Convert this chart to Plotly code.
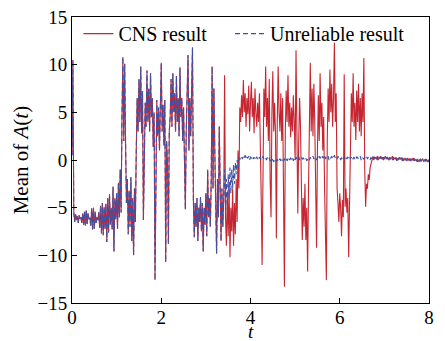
import numpy as np
import plotly.graph_objects as go

# sampling step of both series (time units)
DT = 0.02

# CNS result, t = 0.00 ... 8.00
cns = [
    # 0.00 - 0.98
    0.5, 10.5, -5.4, -6.5, -5.7, -6.3, -5.9, -6.6, -5.8, -6.2,
    -6.0, -6.6, -5.6, -6.8, -5.4, -6.9, -5.3, -6.7, -5.6, -6.2,
    -6.1, -6.9, -5.1, -7.3, -5.0, -7.2, -5.4, -6.6, -6.0, -6.3,
    -5.5, -7.1, -4.8, -7.7, -4.5, -7.9, -4.9, -7.2, -4.6, -8.6,
    -4.0, -7.6, -3.6, -6.8, -5.0, -7.3, -2.8, -9.6, -4.0, -6.2,
    # 1.00 - 1.98
    -3.5, -7.2, -2.4, -6.0, -1.0, -5.5, 4.5, 10.8, 2.0, 10.1,
    2.0, -4.5, -2.0, -7.8, -3.2, -7.0, -1.8, -8.5, -4.0, -10.0,
    -3.0, -6.5, 1.0, 6.5, 3.0, 8.5, 4.0, 9.8, 2.8, 7.2,
    -6.3, 2.0, 6.0, 3.5, 9.4, 4.0, 7.5, 3.0, 9.1, 4.5,
    6.5, 1.4, 5.0, -12.6, 3.0, 6.3, 2.5, 5.5, 1.0, 6.0,
    # 2.00 - 2.98
    10.2, 3.0, 5.8, 1.5, 6.3, -10.7, 2.0, -0.3, -8.8, 3.0,
    4.5, 8.5, 3.5, 9.1, 5.0, 7.0, 3.0, 8.8, 4.0, 6.5,
    2.5, 9.7, 4.5, 6.5, 2.0, 5.5, -1.5, -5.2, 3.0, 7.5,
    11.0, 1.0, 6.5, 2.5, 8.0, 11.8, -4.2, -8.1, -4.5, -7.0,
    -4.0, -8.5, -5.0, -6.5, -3.9, -7.5, -4.5, -9.6, -5.0, -6.8,
    # 3.00 - 3.98
    -3.5, -8.0, -1.0, -6.0, -4.0, -7.0, -2.0, 9.8, -3.0, 7.5,
    1.0, -4.0, -9.8, -2.0, -6.0, 3.5, -5.0, -8.5, -3.0, -7.0,
    -4.0, 8.9, -6.0, -9.0, -3.5, -8.0, -2.4, -10.2, -5.0, -7.5,
    -3.0, -9.0, -4.5, -7.8, -2.0, -6.5, 1.0, -3.0, 5.5, 4.0,
    6.8, 4.5, 8.4, 5.0, 7.0, 3.5, 6.5, 4.8, 7.8, 3.0,
    # 4.00 - 4.98
    6.0, 8.2, 4.5, 6.5, 2.8, 7.5, 5.0, 3.5, 6.0, 4.0,
    7.0, 3.0, -4.0, -11.0, 2.0, 7.5, 4.5, 9.8, 3.5, 6.5,
    2.0, 8.5, -2.0, -6.0, 5.0, 9.3, 3.0, 6.0, 2.8, -8.2,
    4.0, 9.8, 5.0, 3.0, 7.0, 2.0, 6.5, -1.0, -13.3, 3.0,
    7.3, 4.0, 8.9, 3.5, 6.0, 2.4, 5.5, 3.0, 6.8, 4.0,
    # 5.00 - 5.98
    0.0, 11.5, 3.0, -5.6, 2.0, 6.5, 3.5, -2.4, -8.4, -4.0,
    -7.0, -2.5, -8.4, -5.0, -11.7, -3.0, 4.0, 10.2, 3.0, 7.5,
    2.5, 8.0, 4.0, -2.0, -9.2, 1.0, 6.8, 2.0, 9.1, 3.5,
    6.0, 1.0, 4.5, -3.0, -7.0, -12.6, 2.0, 7.5, 4.0, 9.5,
    5.0, 8.0, 3.5, 6.5, 12.3, 4.0, 7.0, -3.0, -4.5, -6.5,
    # 6.00 - 6.78
    -3.5, -5.0, -8.0, -4.2, -6.0, 9.0, -4.9, -3.0, -5.5, -4.0,
    -10.2, -3.0, 2.0, 7.0, 4.0, 9.1, 3.5, 6.0, 2.1, 7.3,
    4.0, 8.0, 3.0, 6.5, 2.5, 7.0, 4.0, 10.7, -1.0, -4.9,
    -2.5, -3.0, -1.5, -2.1, -0.8, -0.3, 0.1, 0.3, 0.0, 0.2,
    # 6.80 - 8.00
    0.3, 0.1, 0.4, 0.0, 0.3, 0.2, 0.4, 0.1, 0.3, 0.0,
    0.2, 0.4, 0.1, 0.3, 0.2, 0.0, 0.3, 0.1, 0.2, 0.4,
    0.0, 0.2, 0.1, 0.3, -0.1, 0.2, 0.0, 0.3, 0.1, 0.2,
    -0.1, 0.1, 0.2, 0.0, 0.1, -0.1, 0.2, 0.0, 0.1, -0.1,
    0.1, 0.0, 0.2, -0.1, 0.1, 0.0, -0.1, 0.1, 0.0, -0.2,
    0.1, -0.1, 0.0, 0.1, -0.1, 0.0, -0.1, 0.1, -0.2, 0.0,
    -0.1,
]

# index of the last sample (t = 3.40) shared by both runs
SPLIT = 170

# unreliable run after it departs from the CNS run, t = 3.42 ... 8.00
unreliable_tail = [
    -1.0, -4.5, -2.0, -5.2, -1.5, -4.0, -0.8, -3.5, -1.0,
    -3.0, -0.5, -2.5, -0.3, -1.5, 0.0, -0.8, 0.1, 0.2, 0.0,
    # 3.80 - 8.00
    0.3, 0.1, 0.4, 0.2, 0.5, 0.1, 0.3, 0.2, 0.4, 0.0,
    0.3, 0.2, 0.4, 0.1, 0.3, 0.0, 0.2, 0.3, 0.1, 0.4,
    0.2, 0.3, 0.0, 0.2, 0.4, 0.1, 0.3, 0.2, 0.0, 0.3,
    0.1, 0.2, -0.1, 0.1, 0.2, 0.0, -0.2, 0.1, 0.0, -0.1,
    0.1, -0.2, 0.0, 0.1, -0.1, 0.2, 0.0, -0.1, 0.1, 0.0,
    0.2, -0.1, 0.1, 0.3, 0.0, 0.2, 0.1, 0.3, -0.1, 0.2,
    0.0, 0.3, 0.1, 0.2, 0.4, 0.0, 0.2, 0.3, 0.1, 0.2,
    0.1, 0.0, 0.2, -0.1, 0.1, 0.2, 0.0, 0.3, 0.1, 0.2,
    0.4, 0.1, 0.3, 0.2, 0.0, 0.3, 0.1, 0.4, 0.2, 0.3,
    0.1, 0.4, 0.2, 0.5, 0.1, 0.3, 0.2, 0.4, 0.0, 0.3,
    0.2, 0.4, 0.1, 0.3, 0.5, 0.2, 0.3, 0.1, 0.4, 0.2,
    0.3, 0.0, 0.2, 0.4, 0.1, 0.3, 0.2, 0.4, 0.1, 0.3,
    0.2, 0.4, 0.1, 0.3, 0.0, 0.2, 0.3, 0.1, 0.4, 0.2,
    0.3, 0.1, 0.2, 0.4, 0.0, 0.3, 0.2, 0.1, 0.3, 0.2,
    0.4, 0.1, 0.3, 0.2, 0.0, 0.3, 0.1, 0.4, 0.2, 0.3,
    0.1, 0.3, 0.0, 0.2, 0.4, 0.1, 0.3, 0.2, 0.0, 0.3,
    0.2, 0.0, 0.3, 0.1, 0.2, -0.1, 0.3, 0.1, 0.2, 0.0,
    0.3, 0.1, 0.0, 0.2, -0.1, 0.2, 0.1, 0.3, 0.0, 0.1,
    0.2, -0.1, 0.1, 0.0, 0.2, -0.1, 0.1, 0.2, 0.0, 0.1,
    -0.1, 0.1, 0.0, 0.2, -0.1, 0.0, 0.1, -0.2, 0.1, 0.0,
    0.1, -0.1, 0.0, 0.1, -0.2, 0.0, 0.1, -0.1, 0.0, -0.2,
    0.0,
]

unreliable = cns[:SPLIT + 1] + unreliable_tail

t_cns = np.round(np.arange(len(cns)) * DT, 2)
t_unr = np.round(np.arange(len(unreliable)) * DT, 2)

x_ticks = [0, 2, 4, 6, 8]
y_ticks = [-15, -10, -5, 0, 5, 10, 15]

FONT = "'Liberation Serif', 'Times New Roman', 'DejaVu Serif', serif"

fig = go.Figure()
fig.add_trace(go.Scatter(
    x=t_cns, y=cns, mode="lines", name="CNS result",
    line=dict(color="#c62631", width=1.1), legend="legend",
))
fig.add_trace(go.Scatter(
    x=t_unr, y=unreliable, mode="lines", name="Unreliable result",
    line=dict(color="#3d52a6", width=1.1, dash="5px,3px"), legend="legend2",
))

axis_common = dict(
    showline=True, linecolor="black", linewidth=1, mirror=True,
    ticks="inside", ticklen=5, tickwidth=1, tickcolor="black",
    showgrid=False, zeroline=False, automargin=False,
    tickfont=dict(family=FONT, size=19, color="black"),
)

legend_common = dict(
    orientation="h", y=1.01, xanchor="left", yanchor="top",
    bgcolor="rgba(0,0,0,0)", font=dict(family=FONT, size=20),
)

fig.update_layout(
    width=445, height=341,
    margin=dict(l=72, r=16, t=17, b=38),
    paper_bgcolor="white", plot_bgcolor="white",
    font=dict(family=FONT, size=19, color="black"),
    showlegend=True,
    legend=dict(x=0.018, **legend_common),
    legend2=dict(x=0.4426, **legend_common),
    xaxis=dict(range=[0, 8], tickvals=x_ticks, ticklabelstandoff=-3, **axis_common),
    yaxis=dict(range=[-15, 15], tickvals=y_ticks, **axis_common),
    annotations=[
        dict(text="<i>t</i>", xref="paper", yref="paper", x=0.5, y=-0.098,
             xanchor="center", yanchor="middle", showarrow=False,
             font=dict(family=FONT, size=19)),
        dict(text="Mean of <i>A</i>(<i>t</i>)", xref="paper", yref="paper",
             x=-0.142, y=0.5, textangle=-90, xanchor="center", yanchor="middle",
             showarrow=False, font=dict(family=FONT, size=21)),
    ],
)

fig.write_html("out.html")
